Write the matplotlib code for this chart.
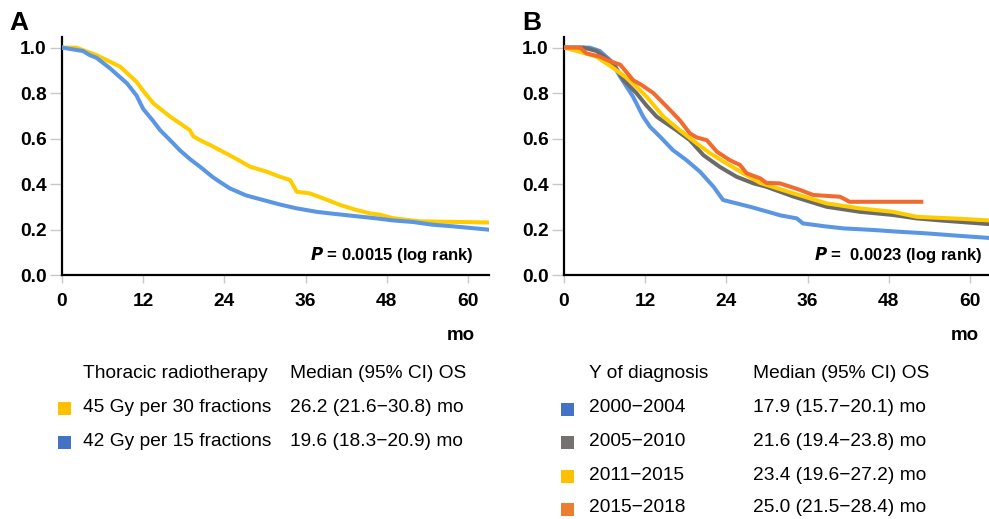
import matplotlib
matplotlib.use("Agg")
import matplotlib.pyplot as plt
from matplotlib.patches import Rectangle

plt.rcParams['font.family'] = ['Liberation Sans', 'DejaVu Sans']

# ---------------- data ----------------
x_ticks = [0, 12, 24, 36, 48, 60]
y_ticks = [0.0, 0.2, 0.4, 0.6, 0.8, 1.0]

# Panel A
a_yellow_t = [0, 2.1, 5.1, 8.6, 11.0, 12.0, 13.5, 16.0, 18.9, 19.4, 20.4, 22.0, 23.8, 25.8,
              27.8, 30.2, 32.2, 33.7, 34.7, 36.6, 38.6, 41.1, 43.5, 45.5, 47, 48.9, 50.9, 52.9, 63.2]
a_yellow_s = [1.0, 1.0, 0.967, 0.916, 0.85, 0.81, 0.755, 0.696, 0.637, 0.61, 0.593, 0.57, 0.542,
              0.51, 0.476, 0.455, 0.432, 0.418, 0.366, 0.359, 0.337, 0.308, 0.286, 0.271, 0.265,
              0.25, 0.243, 0.236, 0.231]
a_blue_t = [0, 3.1, 4.1, 5.1, 7.1, 8, 9.6, 11, 12, 13.4, 14.5, 16.4, 17.4, 18.9, 20.4, 22.3, 23.3,
            24.8, 27.2, 29.7, 32.2, 34.7, 37.6, 39.6, 43, 46.5, 48.9, 51.9, 54.8, 57.8, 60.7, 63.2]
a_blue_s = [1.0, 0.985, 0.967, 0.955, 0.909, 0.885, 0.843, 0.79, 0.73, 0.68, 0.637, 0.58, 0.549,
            0.51, 0.476, 0.43, 0.41, 0.381, 0.35, 0.33, 0.31, 0.293, 0.278, 0.271, 0.26, 0.249,
            0.24, 0.233, 0.221, 0.214, 0.206, 0.199]

a_groups = ["45 Gy per 30 fractions", "42 Gy per 15 fractions"]
a_medians = ["26.2 (21.6\u221230.8) mo", "19.6 (18.3\u221220.9) mo"]
a_pvalue = "0.0015"

# Panel B
b_blue_t = [0, 3.8, 5.3, 7.0, 8.3, 10.2, 11.7, 12.7, 14.2, 16.1, 18.1, 20.1, 22.1, 23.5, 25.5,
            27.5, 29.9, 32.0, 34.4, 35.3, 38.3, 41.3, 45.7, 49.6, 53.1, 58.1, 62.8]
b_blue_s = [1.0, 1.0, 0.985, 0.94, 0.872, 0.784, 0.696, 0.652, 0.608, 0.549, 0.505, 0.454, 0.388,
            0.33, 0.315, 0.30, 0.28, 0.262, 0.249, 0.227, 0.215, 0.205, 0.198, 0.19, 0.184,
            0.173, 0.163]
b_gray_t = [0, 2.9, 4.8, 7.3, 8.8, 10.7, 12.2, 13.7, 16.6, 18.6, 20.6, 23.0, 25.5, 28.0, 29.9,
            33.9, 38.8, 43.7, 48.6, 52.1, 55.6, 62.8]
b_gray_s = [1.0, 1.0, 0.985, 0.93, 0.857, 0.80, 0.745, 0.696, 0.637, 0.593, 0.527, 0.476, 0.432,
            0.403, 0.388, 0.345, 0.30, 0.278, 0.264, 0.249, 0.24, 0.224]
b_yellow_t = [0, 1.9, 4.8, 7.3, 9.7, 12.2, 14.7, 17.1, 19.6, 21.6, 24.0, 26.5, 29.0, 33.9, 38.8,
              43.7, 48.6, 52.1, 55.0, 58.1, 62.8]
b_yellow_s = [1.0, 0.985, 0.96, 0.91, 0.857, 0.784, 0.696, 0.637, 0.579, 0.535, 0.491, 0.447,
              0.405, 0.359, 0.315, 0.293, 0.278, 0.256, 0.252, 0.248, 0.24]
b_orange_t = [0, 2.4, 3.3, 5.3, 6.8, 8.3, 9.3, 10.2, 11.5, 13.2, 15.2, 17.1, 18.6, 19.6, 21.1,
              22.6, 24.5, 26.0, 27.0, 29.0, 29.9, 31.9, 34.9, 36.8, 40.8, 42.2, 52.8]
b_orange_s = [1.0, 1.0, 0.975, 0.96, 0.94, 0.925, 0.89, 0.857, 0.835, 0.80, 0.74, 0.681, 0.623,
              0.605, 0.593, 0.542, 0.505, 0.484, 0.447, 0.425, 0.405, 0.403, 0.374, 0.352, 0.344,
              0.322, 0.322]

b_groups = ["2000\u22122004", "2005\u22122010", "2011\u22122015", "2015\u22122018"]
b_medians = ["17.9 (15.7\u221220.1) mo", "21.6 (19.4\u221223.8) mo",
             "23.4 (19.6\u221227.2) mo", "25.0 (21.5\u221228.4) mo"]
b_pvalue = "0.0023"

# ---------------- styling ----------------
C_YELLOW = "#FFCC00"
C_BLUE = "#5A96E3"
C_GRAY = "#6B6B6B"
C_ORANGE = "#F26A2E"
SQ_YELLOW = "#FFC000"
SQ_BLUE = "#4472C4"
SQ_GRAY = "#767171"
SQ_ORANGE = "#ED7D31"

W, H = 989, 519
fig = plt.figure(figsize=(W / 100, H / 100), dpi=100)


def fx(x):
    return x / W


def fy(y):
    return 1 - y / H


def make_axes(left_px, right_px, xmax):
    top_px, bottom_px = 36.7, 275
    ax = fig.add_axes([fx(left_px), fy(bottom_px), fx(right_px - left_px), (bottom_px - top_px) / H])
    ax.set_xlim(0, xmax)
    ax.set_ylim(0, 1.048)
    for s in ["top", "right"]:
        ax.spines[s].set_visible(False)
    for s in ["left", "bottom"]:
        ax.spines[s].set_linewidth(1.6)
        ax.spines[s].set_color("black")
    ax.set_xticks(x_ticks)
    ax.set_yticks(y_ticks)
    ax.set_yticklabels([f"{v:.1f}" for v in y_ticks])
    ax.tick_params(axis="y", length=9, width=1, color="#C8C8C8", pad=2,
                   labelsize=13.8)
    ax.tick_params(axis="x", length=6, width=1, color="#C8C8C8", pad=7,
                   labelsize=13.8)
    for lab in ax.get_xticklabels() + ax.get_yticklabels():
        lab.set_fontweight("bold")
    return ax


LW = 2.9

# Panel A
axA = make_axes(62, 489, 63.1)
axA.plot(a_yellow_t, a_yellow_s, color=C_YELLOW, lw=LW, zorder=3)
axA.plot(a_blue_t, a_blue_s, color=C_BLUE, lw=LW, zorder=4)
fig.text(fx(474), fy(255), r"$\bfit{P}$" + f" = {a_pvalue} (log rank)", ha="right", va="center",
         fontsize=12, fontweight="bold")

# Panel B
axB = make_axes(564, 989, 62.8)
axB.plot(b_blue_t, b_blue_s, color=C_BLUE, lw=LW, zorder=3)
axB.plot(b_gray_t, b_gray_s, color=C_GRAY, lw=LW, zorder=4)
axB.plot(b_yellow_t, b_yellow_s, color=C_YELLOW, lw=LW, zorder=5)
axB.plot(b_orange_t, b_orange_s, color=C_ORANGE, lw=LW, zorder=6)
fig.text(fx(982), fy(255), r"$\bfit{P}$" + f" =  {b_pvalue} (log rank)", ha="right", va="center",
         fontsize=12, fontweight="bold")

# panel letters
fig.text(fx(9), fy(23), "A", fontsize=19, fontweight="bold", va="center", ha="left")
fig.text(fx(522), fy(23), "B", fontsize=19, fontweight="bold", va="center", ha="left")

# "mo" axis labels
fig.text(fx(461), fy(336), "mo", fontsize=13.5, fontweight="bold", ha="center", va="center")
fig.text(fx(965), fy(336), "mo", fontsize=13.5, fontweight="bold", ha="center", va="center")

# legend tables
LFS = 13.8


def square(xpx, ypx, color):
    s = 13
    fig.patches.append(Rectangle((fx(xpx), fy(ypx + s / 2)), s / W, s / H, transform=fig.transFigure,
                                 facecolor=color, edgecolor="none"))


fig.text(fx(83), fy(373), "Thoracic radiotherapy", fontsize=LFS, va="center", ha="left")
fig.text(fx(290), fy(373), "Median (95% CI) OS", fontsize=LFS, va="center", ha="left")
a_rows_y = [407, 441]
a_sq = [SQ_YELLOW, SQ_BLUE]
for yy, g, m, c in zip(a_rows_y, a_groups, a_medians, a_sq):
    square(58, yy + 1, c)
    fig.text(fx(83), fy(yy), g, fontsize=LFS, va="center", ha="left")
    fig.text(fx(290), fy(yy), m, fontsize=LFS, va="center", ha="left")

fig.text(fx(589), fy(373), "Y of diagnosis", fontsize=LFS, va="center", ha="left")
fig.text(fx(753), fy(373), "Median (95% CI) OS", fontsize=LFS, va="center", ha="left")
b_rows_y = [408, 441, 475, 508]
b_sq = [SQ_BLUE, SQ_GRAY, SQ_YELLOW, SQ_ORANGE]
for yy, g, m, c in zip(b_rows_y, b_groups, b_medians, b_sq):
    square(561, yy + 1, c)
    fig.text(fx(589), fy(yy), g, fontsize=LFS, va="center", ha="left")
    fig.text(fx(753), fy(yy), m, fontsize=LFS, va="center", ha="left")

fig.savefig("out.png", dpi=100)
